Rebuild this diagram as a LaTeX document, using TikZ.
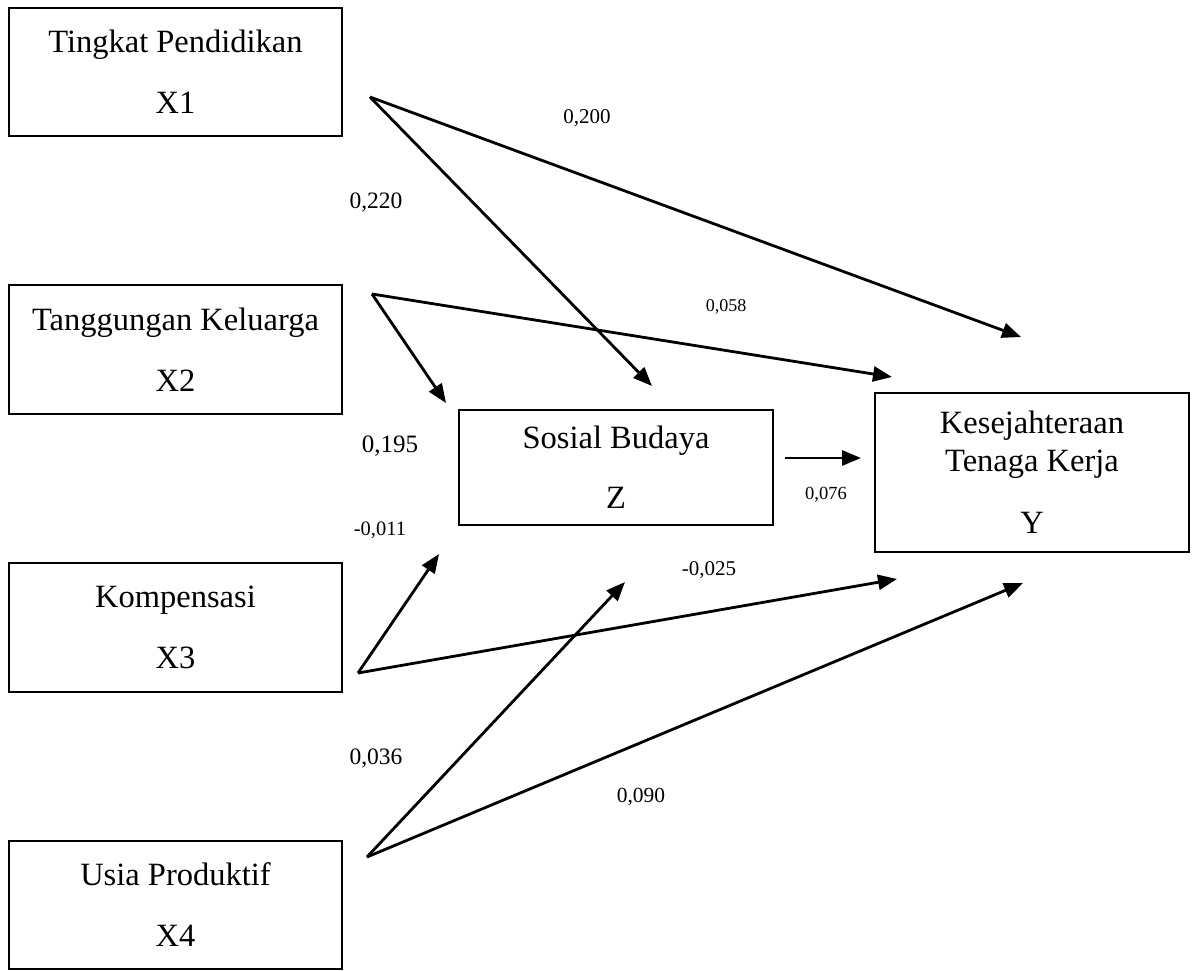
\documentclass[tikz,border=0pt]{standalone}
\usepackage{fontspec}
\setmainfont{Liberation Serif}
\usetikzlibrary{arrows.meta}

\begin{document}
\begin{tikzpicture}[x=1pt, y=-1pt,
    var/.style={draw, rectangle, line width=2.2pt, align=center,
        font=\fontsize{32.5}{38}\selectfont},
    path/.style={-{Triangle[length=19pt, width=15pt]}, line width=2.8pt},
    coef/.style={anchor=base, inner sep=0pt, font=\fontsize{#1}{#1}\selectfont}]
    \useasboundingbox (0,0) rectangle (1194,971);

    % Independent variables
    \node[var, minimum width=333, minimum height=128] (x1) at (175.5,72) {Tingkat Pendidikan\\[23pt]X1};
    \node[var, minimum width=333, minimum height=129] (x2) at (175.5,349.5) {Tanggungan Keluarga\\[23pt]X2};
    \node[var, minimum width=333, minimum height=129] (x3) at (175.5,627.5) {Kompensasi\\[23pt]X3};
    \node[var, minimum width=333, minimum height=128] (x4) at (175.5,905) {Usia Produktif\\[23pt]X4};

    % Intervening and dependent variables
    \node[var, minimum width=314, minimum height=115] (z) at (616,467.5) {Sosial Budaya\\[22pt]Z};
    \node[var, minimum width=314, minimum height=159] (y) at (1032,472.5) {Kesejahteraan\\Tenaga Kerja\\[24pt]Y};

    % Arrow ends
    \coordinate (x1out) at (370,97);
    \coordinate (x2out) at (372,294);
    \coordinate (x3out) at (358,673);
    \coordinate (x4out) at (367,857);
    \coordinate (zout) at (785,458);
    \coordinate (zin1) at (652,386);
    \coordinate (zin2) at (446,403);
    \coordinate (zin3) at (439,554);
    \coordinate (zin4) at (625,582);
    \coordinate (yin1) at (1021,337);
    \coordinate (yin2) at (892,377);
    \coordinate (yinz) at (861,458);
    \coordinate (yin3) at (897,579);
    \coordinate (yin4) at (1023,583);

    % Connections
    \draw[path] (x1out) -- (yin1);
    \draw[path] (x1out) -- (zin1);
    \draw[path] (x2out) -- (zin2);
    \draw[path] (x2out) -- (yin2);
    \draw[path] (zout) -- (yinz);
    \draw[path] (x3out) -- (zin3);
    \draw[path] (x3out) -- (yin3);
    \draw[path] (x4out) -- (zin4);
    \draw[path] (x4out) -- (yin4);

    % Coefficients
    \node[coef=21] (c200) at (587,124) {0,200};
    \node[coef=23.5] (c220) at (376,208) {0,220};
    \node[coef=18] (c058) at (726,311) {0,058};
    \node[coef=25] (c195) at (390,452) {0,195};
    \node[coef=18.5] (c076) at (826,499) {0,076};
    \node[coef=20.5] (c011) at (380,535) {-0,011};
    \node[coef=21] (c025) at (709,575) {-0,025};
    \node[coef=23.5] (c036) at (376,764) {0,036};
    \node[coef=21.5] (c090) at (641,802) {0,090};
\end{tikzpicture}
\end{document}
